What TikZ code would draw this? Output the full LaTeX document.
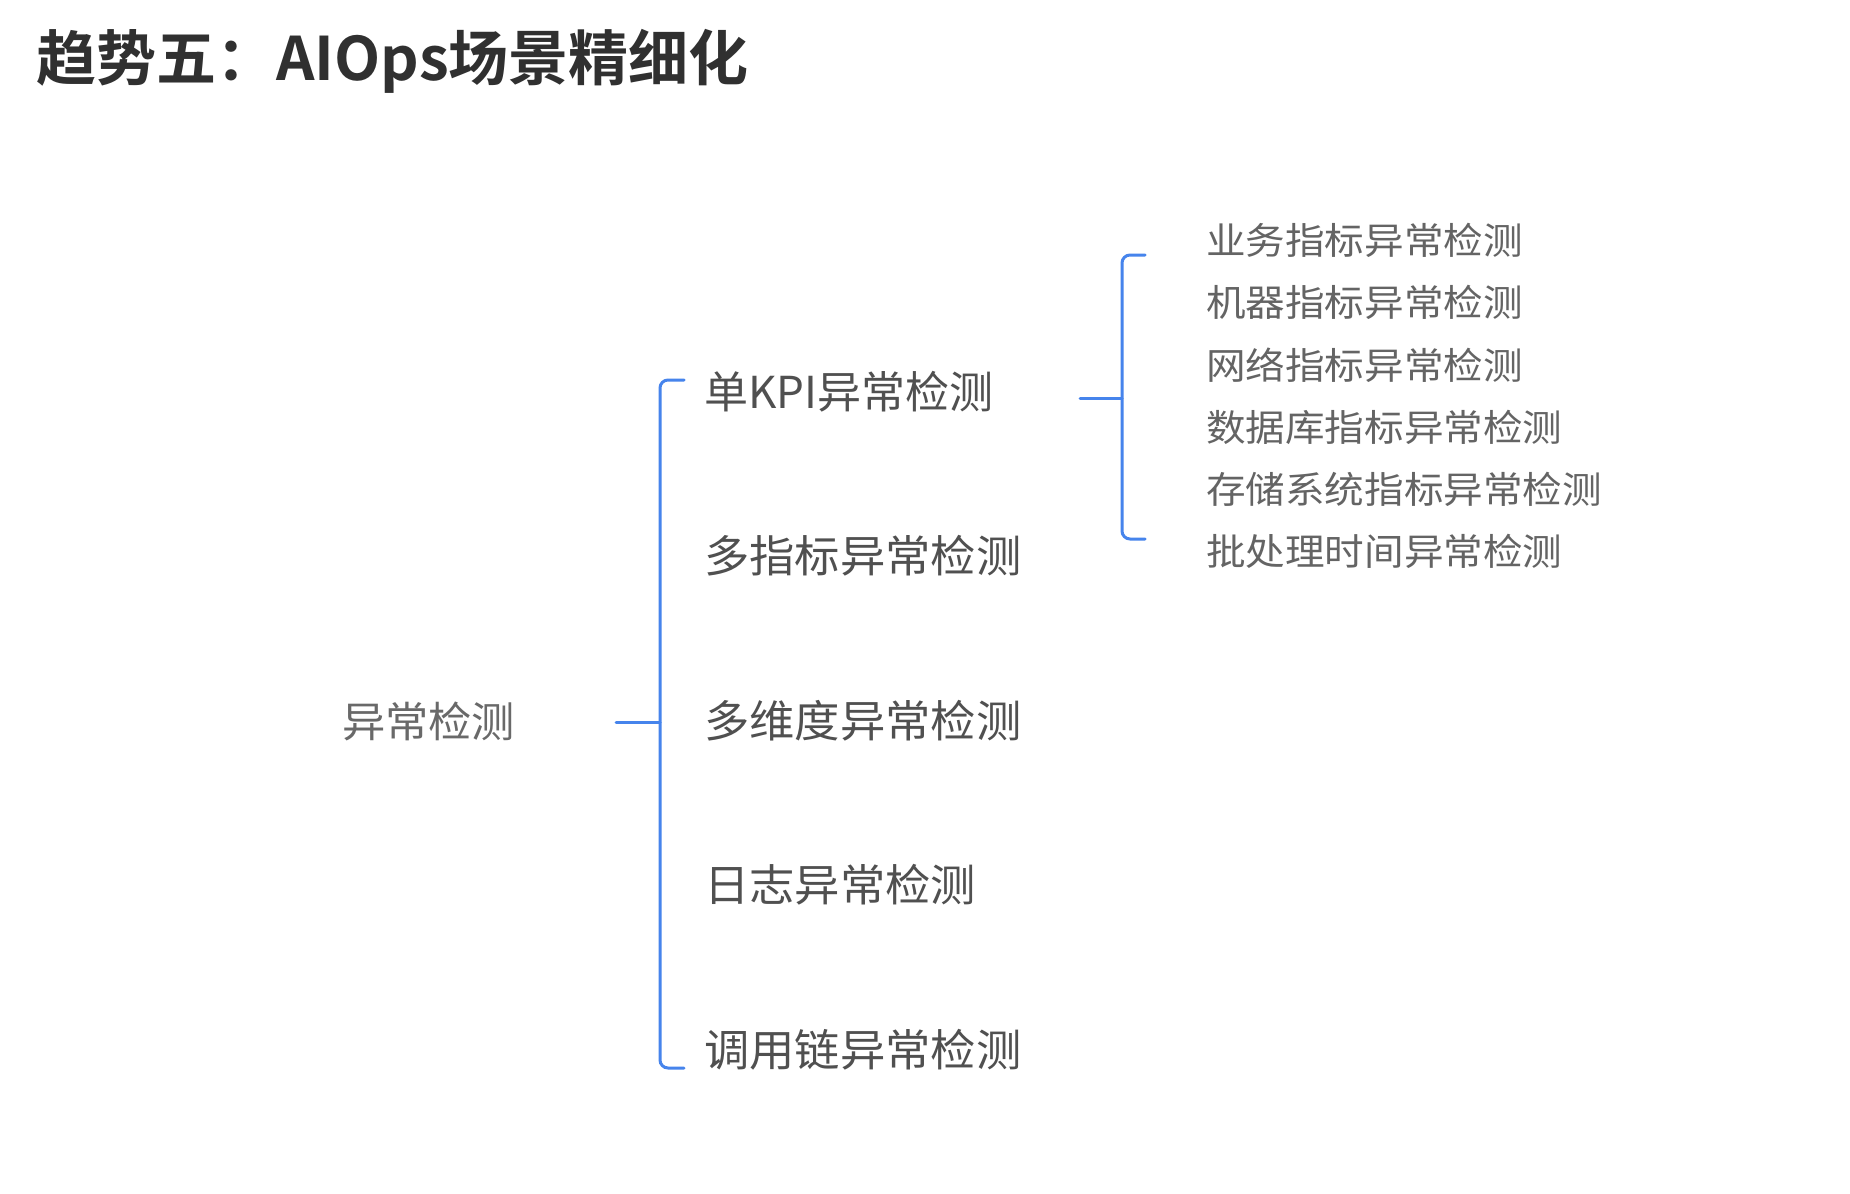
\documentclass[tikz,border=0pt]{standalone}
\usepackage{fontspec}
\setmainfont{Noto Sans CJK SC}
\newfontfamily\cjk{Noto Sans CJK SC}
\newfontfamily\cjkb{Noto Sans CJK SC Bold}
\usepackage{graphicx}
\definecolor{brblue}{RGB}{70,132,236}
\definecolor{titlec}{RGB}{48,48,48}
\definecolor{lvtwo}{RGB}{80,80,80}
\definecolor{lvthree}{RGB}{100,100,100}
\definecolor{rootc}{RGB}{105,105,105}
\begin{document}
\begin{tikzpicture}[x=1pt,y=-1pt,
  titlenode/.style={anchor=west,inner sep=0pt,text=titlec,font=\cjkb\fontsize{60}{66}\selectfont},
  rootnode/.style={anchor=west,inner sep=0pt,text=rootc,font=\cjk\fontsize{42}{46}\selectfont},
  lvtwonode/.style={anchor=west,inner sep=0pt,text=lvtwo,font=\cjk\fontsize{44}{48}\selectfont},
  lvthreenode/.style={anchor=west,inner sep=0pt,text=lvthree,font=\cjk\fontsize{37}{40}\selectfont},
  br/.style={draw=brblue,line width=3pt,rounded corners=8pt,line cap=round}]
\useasboundingbox[fill=white] (0,0) rectangle (1850,1194);

\node[titlenode] (title) at (36,61) {趋势五：AIOps场景精细化};

\node[rootnode] (root) at (342,721) {\scalebox{1.03}[1]{异常检测}};

\node[lvtwonode] (k1) at (704,392) {单KPI异常检测};
\node[lvtwonode] (k2) at (704,556) {\scalebox{1.03}[1]{多指标异常检测}};
\node[lvtwonode] (k3) at (704,721) {\scalebox{1.03}[1]{多维度异常检测}};
\node[lvtwonode] (k4) at (704,885) {\scalebox{1.03}[1]{日志异常检测}};
\node[lvtwonode] (k5) at (704,1050) {\scalebox{1.03}[1]{调用链异常检测}};

\node[lvthreenode] (s1) at (1206,240) {\scalebox{1.07}[1]{业务指标异常检测}};
\node[lvthreenode] (s2) at (1206,302) {\scalebox{1.07}[1]{机器指标异常检测}};
\node[lvthreenode] (s3) at (1206,365) {\scalebox{1.07}[1]{网络指标异常检测}};
\node[lvthreenode] (s4) at (1206,427) {\scalebox{1.07}[1]{数据库指标异常检测}};
\node[lvthreenode] (s5) at (1206,489) {\scalebox{1.07}[1]{存储系统指标异常检测}};
\node[lvthreenode] (s6) at (1206,551) {\scalebox{1.07}[1]{批处理时间异常检测}};

% left bracket
\coordinate (ls) at (616,722);
\coordinate (lm) at (660,722);
\coordinate (lt) at (684,380);
\coordinate (lb) at (684,1068);
\draw[br] (ls) -- (lm);
\draw[br] (lt) -| (lm) |- (lb);

% right bracket
\coordinate (rs) at (1080,398);
\coordinate (rm) at (1122,398);
\coordinate (rt) at (1145,255);
\coordinate (rb) at (1145,539);
\draw[br] (rs) -- (rm);
\draw[br] (rt) -| (rm) |- (rb);
\end{tikzpicture}
\end{document}
